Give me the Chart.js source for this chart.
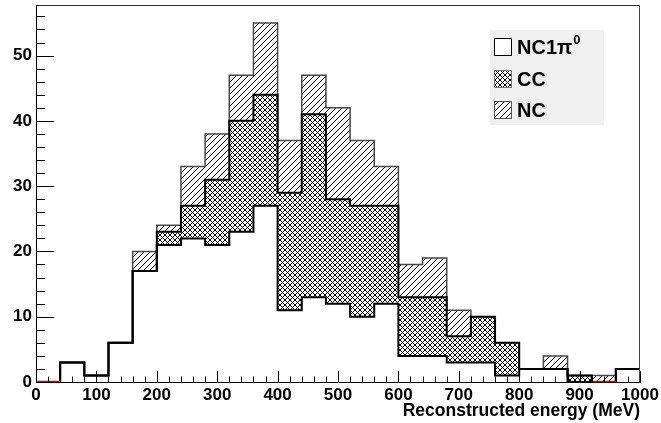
<!DOCTYPE html>
<html>
<head>
<meta charset="utf-8">
<script src="https://cdn.jsdelivr.net/npm/chart.js@4.4.1/dist/chart.umd.min.js"></script>
<style>
  html, body { margin: 0; padding: 0; background: #fff; }
  #wrap { width: 661px; height: 423px; }
</style>
</head>
<body>
<div id="wrap"><canvas id="c" width="661" height="423"></canvas></div>
<script>
// Lower edges of the 40 MeV energy bins (MeV)
const binLow = [0, 40, 80, 120, 160, 200, 240, 280, 320, 360, 400, 440, 480,
                520, 560, 600, 640, 680, 720, 760, 800, 840, 880, 920, 960];
const binWidth = 40;

// Events per bin for each interaction channel (stacked bottom to top)
const nc1pi0Events = [0, 3, 1, 6, 17, 21, 22, 21, 23, 27, 11, 13, 12,
                      10, 12, 4, 4, 3, 3, 1, 2, 2, 0, 0, 2];
const ccEvents     = [0, 0, 0, 0, 0, 2, 5, 10, 17, 17, 18, 28, 16,
                      17, 15, 9, 9, 4, 7, 5, 0, 0, 1, 0, 0];
const ncEvents     = [0, 0, 0, 0, 3, 1, 6, 7, 7, 11, 8, 6, 14,
                      10, 6, 5, 6, 4, 0, 0, 0, 2, 0, 1, 0];

const xTickValues = [0, 100, 200, 300, 400, 500, 600, 700, 800, 900, 1000];
const yTickValues = [0, 10, 20, 30, 40, 50];
const seriesNames = ['NC1\u03C0', 'CC', 'NC'];

const FONT = "'Liberation Sans', Arial, Helvetica, sans-serif";

// ---- fill patterns -------------------------------------------------------
function makeTile(size, width, draw) {
  const c = document.createElement('canvas');
  c.width = size; c.height = size;
  const g = c.getContext('2d');
  g.fillStyle = '#fff';
  g.fillRect(0, 0, size, size);
  g.strokeStyle = '#000';
  g.lineWidth = width;
  draw(g, size);
  return document.createElement('canvas').getContext('2d').createPattern(c, 'repeat');
}
function diagUp(g, s) {
  g.beginPath();
  g.moveTo(0, s); g.lineTo(s, 0);
  g.moveTo(-1, 1); g.lineTo(1, -1);
  g.moveTo(s - 1, s + 1); g.lineTo(s + 1, s - 1);
  g.stroke();
}
function diagDown(g, s) {
  g.beginPath();
  g.moveTo(0, 0); g.lineTo(s, s);
  g.moveTo(s - 1, -1); g.lineTo(s + 1, 1);
  g.moveTo(-1, s - 1); g.lineTo(1, s + 1);
  g.stroke();
}
const hatchNC = makeTile(6, 1, (g, s) => diagUp(g, s));
const crossCC = makeTile(5, 1, (g, s) => { diagUp(g, s); diagDown(g, s); });

// ---- data sets ------------------------------------------------------------
const centre = i => binLow[i] + binWidth / 2;
const barPoints = arr => arr.map((v, i) => ({ x: centre(i), y: v }));

// cumulative heights for the histogram outlines
const cumWhite = nc1pi0Events.slice();
const cumCC = nc1pi0Events.map((v, i) => v + ccEvents[i]);
const cumAll = cumCC.map((v, i) => v + ncEvents[i]);
const stepPoints = arr => {
  const pts = [{ x: binLow[0], y: 0 }];
  arr.forEach((v, i) => pts.push({ x: binLow[i], y: v }));
  pts.push({ x: binLow[binLow.length - 1] + binWidth, y: 0 });
  return pts;
};

const barCommon = { borderWidth: 0, barPercentage: 1.0, categoryPercentage: 1.0, order: 10, stack: 'events' };
const lineCommon = { type: 'line', stepped: 'before', pointRadius: 0, fill: false, tension: 0 };

const datasets = [
  Object.assign({ label: seriesNames[0], data: barPoints(nc1pi0Events), backgroundColor: '#ffffff' }, barCommon),
  Object.assign({ label: seriesNames[1], data: barPoints(ccEvents), backgroundColor: crossCC }, barCommon),
  Object.assign({ label: seriesNames[2], data: barPoints(ncEvents), backgroundColor: hatchNC }, barCommon),
  Object.assign({ label: 'outline-all', data: stepPoints(cumAll), borderColor: '#4a4a4a', borderWidth: 1.5, order: 3, stack: 's3' }, lineCommon),
  Object.assign({ label: 'outline-cc', data: stepPoints(cumCC), borderColor: '#000', borderWidth: 2, order: 2, stack: 's2' }, lineCommon),
  Object.assign({ label: 'outline-nc1pi0', data: stepPoints(cumWhite), borderColor: '#000', borderWidth: 2, order: 1, stack: 's1' }, lineCommon)
];

// ---- frame, inward ticks, legend -----------------------------------------
const framePlugin = {
  id: 'frame',
  afterDatasetsDraw(chart) {
    const { ctx, chartArea: a, scales: { x, y } } = chart;
    ctx.save();
    // red baseline where nothing below the NC layer is filled
    ctx.strokeStyle = '#e00000';
    ctx.lineWidth = 1.5;
    cumCC.forEach((v, i) => {
      if (v === 0) {
        ctx.beginPath();
        ctx.moveTo(x.getPixelForValue(binLow[i]), a.bottom - 0.5);
        ctx.lineTo(x.getPixelForValue(binLow[i] + binWidth), a.bottom - 0.5);
        ctx.stroke();
      }
    });
    // top and right frame
    ctx.lineWidth = 1;
    ctx.strokeStyle = '#333';
    ctx.beginPath();
    ctx.moveTo(a.left, a.top + 0.5); ctx.lineTo(a.right, a.top + 0.5);
    ctx.stroke();
    ctx.strokeStyle = '#e00000';
    ctx.beginPath();
    ctx.moveTo(a.right - 0.5, a.top); ctx.lineTo(a.right - 0.5, a.bottom);
    ctx.stroke();
    // inward ticks on the x axis: major every 100 MeV, minor every 20 MeV
    ctx.strokeStyle = '#000';
    ctx.beginPath();
    for (let v = x.min; v <= x.max; v += 20) {
      const px = Math.round(x.getPixelForValue(v)) + 0.5;
      const len = (v % 100 === 0) ? 11 : 5.5;
      ctx.moveTo(px, a.bottom); ctx.lineTo(px, a.bottom - len);
    }
    // inward ticks on the y axis: major every 10, minor every 2
    for (let v = 0; v <= y.max; v += 2) {
      const py = Math.round(y.getPixelForValue(v)) + 0.5;
      const len = (v % 10 === 0) ? 18 : 9;
      ctx.moveTo(a.left, py); ctx.lineTo(a.left + len, py);
    }
    ctx.stroke();
    ctx.restore();
  },
  afterDraw(chart) {
    const ctx = chart.ctx;
    ctx.save();
    // legend panel
    ctx.fillStyle = '#f0f0f0';
    ctx.fillRect(490, 30, 114, 95);
    const rows = [47, 79, 110];
    const fills = ['#ffffff', crossCC, hatchNC];
    const edges = ['#000', '#777', '#555'];
    rows.forEach((cy, i) => {
      ctx.fillStyle = fills[i];
      ctx.fillRect(494, cy - 9, 18, 18);
      ctx.strokeStyle = edges[i];
      ctx.lineWidth = 1;
      ctx.strokeRect(494.5, cy - 8.5, 17, 17);
      ctx.fillStyle = '#000';
      ctx.textBaseline = 'middle';
      ctx.textAlign = 'left';
      ctx.font = 'bold 20px ' + FONT;
      const name = chart.data.datasets[i].label;
      ctx.fillText(name, 517, cy + 1);
      if (i === 0) {
        const w = ctx.measureText(name).width;
        ctx.font = 'bold 13px ' + FONT;
        ctx.fillText('0', 517 + w + 1, cy - 7);
      }
    });
    ctx.restore();
  }
};

new Chart(document.getElementById('c'), {
  type: 'bar',
  data: { datasets },
  options: {
    responsive: false,
    animation: false,
    devicePixelRatio: 1,
    layout: { padding: { top: 5, right: 21, left: 0, bottom: 0 } },
    plugins: { legend: { display: false }, tooltip: { enabled: false } },
    scales: {
      x: {
        type: 'linear', min: 0, max: 1000, stacked: true, offset: false,
        grid: { display: false, drawTicks: false },
        border: { display: true, color: '#000', width: 1 },
        afterBuildTicks: s => { s.ticks = xTickValues.map(v => ({ value: v })); },
        ticks: {
          autoSkip: false, maxRotation: 0, padding: 3, color: '#000',
          font: { family: FONT, size: 17, weight: 'bold' },
          callback: v => String(v)
        },
        title: {
          display: true, text: 'Reconstructed energy (MeV)', align: 'end', color: '#000',
          font: { family: FONT, size: 17.5, weight: 'bold' },
          padding: { top: 0, bottom: 1 }
        },
        afterFit: s => { s.height = 41; s.paddingLeft = 0; s.paddingRight = 0; }
      },
      y: {
        type: 'linear', min: 0, max: 57.75, stacked: true,
        grid: { display: false, drawTicks: false },
        border: { display: true, color: '#000', width: 1 },
        afterBuildTicks: s => { s.ticks = yTickValues.map(v => ({ value: v })); },
        ticks: {
          padding: 4, color: '#000',
          font: { family: FONT, size: 17, weight: 'bold' },
          callback: v => String(v)
        },
        afterFit: s => { s.width = 36; s.paddingTop = 0; s.paddingBottom = 0; }
      }
    }
  },
  plugins: [framePlugin]
});
</script>
</body>
</html>
